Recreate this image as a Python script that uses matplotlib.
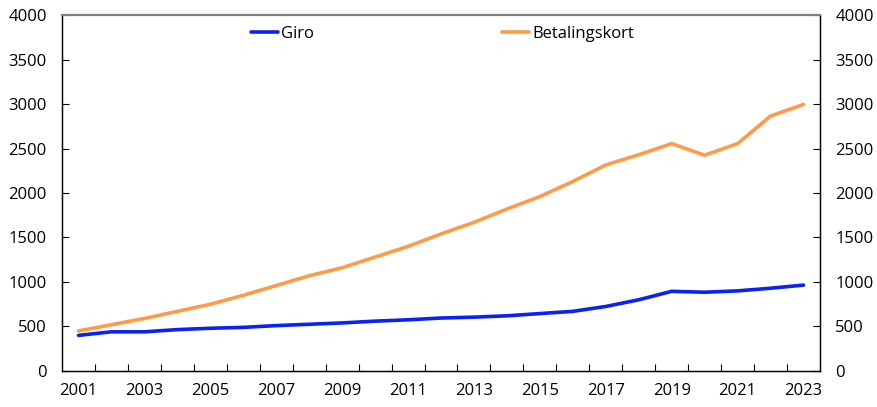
import matplotlib.pyplot as plt
import numpy as np

years = list(range(2001, 2024))
giro = [400, 440, 440, 465, 480, 490, 510, 525, 540, 560, 575, 595, 605, 620,
        645, 670, 725, 800, 895, 885, 900, 930, 965]
betalingskort = [450, 520, 590, 670, 750, 850, 960, 1070, 1160, 1280, 1400,
                 1540, 1670, 1820, 1960, 2130, 2315, 2430, 2555, 2425, 2555,
                 2865, 2995]
yticks = [0, 500, 1000, 1500, 2000, 2500, 3000, 3500, 4000]

plt.rcParams["font.family"] = ["Open Sans", "DejaVu Sans"]

fig = plt.figure(figsize=(8.77, 4.07), dpi=100)
ax = fig.add_axes([0.0707, 0.0885, 0.8643, 0.8746])

x = np.arange(len(years))
ax.plot(x, giro, color="#0a22f5", lw=2.6, label="Giro", solid_capstyle="round")
ax.plot(x, betalingskort, color="#ff9a46", lw=2.6, label="Betalingskort",
        solid_capstyle="round")

ax.set_xlim(-0.5, len(years) - 0.5)
ax.set_ylim(0, 4000)
ax.set_yticks(yticks)
ax.set_xticks(x[::2])
ax.set_xticklabels([str(y) for y in years[::2]])
ax.set_xticks(x[:-1] + 0.5, minor=True)
ax.tick_params(axis="x", which="major", length=0, pad=9, labelsize=12)
ax.tick_params(axis="x", which="minor", length=5, direction="in", width=0.8)
ax.tick_params(axis="y", length=5, direction="in", pad=11, labelsize=12, width=0.8)

ax2 = ax.twinx()
ax2.set_ylim(0, 4000)
ax2.set_yticks(yticks)
ax2.tick_params(axis="y", length=5, direction="in", pad=11, labelsize=12, width=0.8)

for a in (ax, ax2):
    a.spines["top"].set_color("#808080")
    a.spines["top"].set_linewidth(1.5)
    for s in ("left", "right", "bottom"):
        a.spines[s].set_linewidth(0.9)

ax.legend(loc="upper center", bbox_to_anchor=(0.502, 1.012), ncol=2,
          frameon=False, fontsize=12, handlelength=1.6, handletextpad=0.2,
          columnspacing=11.3)

fig.savefig("out.png", dpi=100)
